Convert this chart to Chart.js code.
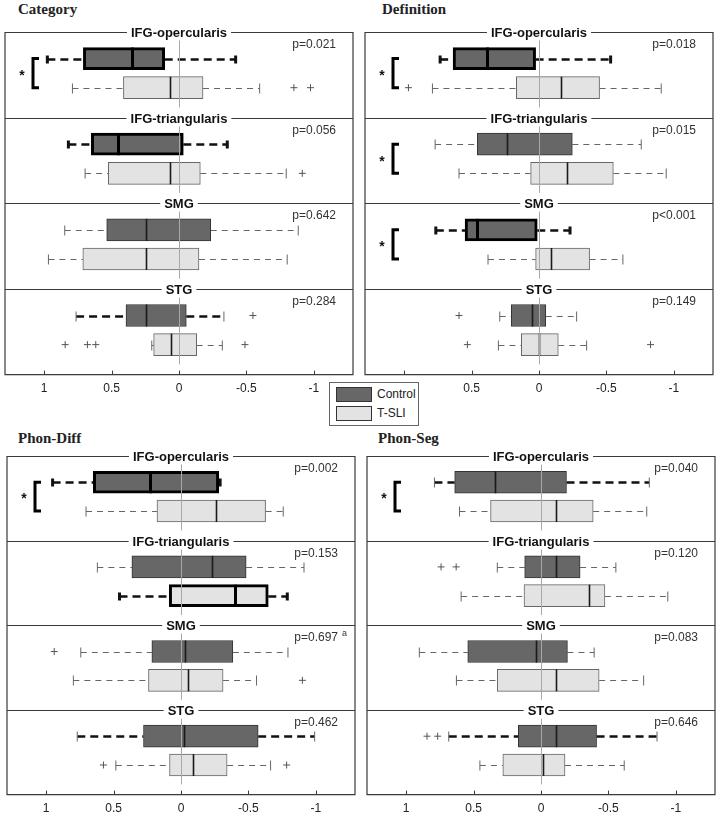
<!DOCTYPE html>
<html lang="en">
<head>
<meta charset="UTF-8">
<title>ROI laterality boxplots</title>
<script src="https://cdn.jsdelivr.net/npm/chart.js"></script>
<style>
  body { margin: 0; background: #fff; font-family: 'Liberation Sans', Arial, sans-serif; }
  #page { position: relative; width: 721px; height: 817px; overflow: hidden; }
  canvas { position: absolute; }
  .ptitle {
    position: absolute;
    font-family: 'Liberation Serif', 'DejaVu Serif', serif;
    font-weight: bold;
    font-size: 15px;
    color: #222;
  }
  #legend {
    position: absolute; left: 329px; top: 382px; width: 88px; height: 42px;
    border: 1px solid #666; background: #fff; z-index: 2;
  }
  #legend .sw { position: absolute; left: 6px; width: 34px; height: 13px; border: 1px solid #333; }
  #legend .lab { position: absolute; left: 47px; font-size: 12px; color: #222; }
</style>
</head>
<body>
<div id="page">
  <div class="ptitle" style="left:18px; top:1px;">Category</div>
  <div class="ptitle" style="left:382px; top:1px;">Definition</div>
  <div class="ptitle" style="left:18px; top:430px;">Phon-Diff</div>
  <div class="ptitle" style="left:378px; top:430px;">Phon-Seg</div>

  <canvas id="cCategory" width="360" height="403" style="left:0; top:0;"></canvas>
  <canvas id="cDefinition" width="360" height="403" style="left:360px; top:0;"></canvas>
  <canvas id="cDiff" width="360" height="393" style="left:0; top:430px;"></canvas>
  <canvas id="cSeg" width="360" height="393" style="left:360px; top:430px;"></canvas>

  <div id="legend">
    <span class="sw" style="top:4px; background:#676767;"></span><span class="lab" style="top:4px;">Control</span>
    <span class="sw" style="top:23px; background:#e3e3e3;"></span><span class="lab" style="top:23px;">T-SLI</span>
  </div>
</div>

<script>
// regions, top to bottom in every panel
const regions = ['IFG-opercularis', 'IFG-triangularis', 'SMG', 'STG'];
const tickValues = [1, 0.5, 0, -0.5, -1];
const tickLabels = ['1', '0.5', '0', '-0.5', '-1'];

// five-number summaries [min, q1, median, q3, max] per region
const categoryControl = [[-0.42, 0.106, 0.346, 0.709, 0.976], [-0.358, -0.032, 0.45, 0.65, 0.82], [-0.884, -0.235, 0.247, 0.536, 0.847], [-0.333, -0.054, 0.247, 0.393, 0.763]];
const categoryTsli = [[-0.598, -0.178, 0.069, 0.412, 0.79], [-0.795, -0.158, 0.069, 0.524, 0.696], [-0.802, -0.148, 0.247, 0.713, 0.968], [-0.321, -0.131, 0.057, 0.188, 0.202]];
const categoryControlOut = [[], [], [], [-0.548]];
const categoryTsliOut = [[-0.852, -0.975], [-0.914], [], [0.844, 0.679, 0.617, -0.489]];
const categoryP = ['p=0.021', 'p=0.056', 'p=0.642', 'p=0.284'];
const categorySig = [true, false, false, false];

const definitionControl = [[-0.531, 0.025, 0.383, 0.637, 0.733], [-0.758, -0.247, 0.235, 0.457, 0.77], [-0.23, 0.013, 0.457, 0.548, 0.765], [-0.279, -0.05, 0.054, 0.205, 0.291]];
const definitionTsli = [[-0.906, -0.449, -0.165, 0.168, 0.79], [-0.943, -0.551, -0.205, 0.062, 0.593], [-0.622, -0.375, -0.086, 0.025, 0.378], [-0.353, -0.143, 0.0, 0.131, 0.301]];
const definitionControlOut = [[], [], [], [0.593]];
const definitionTsliOut = [[0.968], [], [], [0.531, -0.827]];
const definitionP = ['p=0.018', 'p=0.015', 'p<0.001', 'p=0.149'];
const definitionSig = [true, true, true, false];

const diffControl = [[-0.29, -0.28, 0.228, 0.65, 0.952], [-0.912, -0.483, -0.23, 0.364, 0.62], [-0.793, -0.384, -0.027, 0.216, 0.743], [-0.991, -0.572, -0.019, 0.278, 0.769]];
const diffTsli = [[-0.758, -0.627, -0.26, 0.178, 0.704], [-0.788, -0.647, -0.399, 0.087, 0.456], [-0.56, -0.312, -0.052, 0.241, 0.798], [-0.664, -0.342, -0.089, 0.085, 0.483]];
const diffControlOut = [[], [], [0.94], []];
const diffTsliOut = [[], [], [-0.9], [0.575, -0.783]];
const diffP = ['p=0.002', 'p=0.153', 'p=0.697', 'p=0.462'];
const diffNotes = ['', '', 'a', ''];
const diffSig = [true, false, false, false];

const segControl = [[-0.803, -0.189, 0.342, 0.64, 0.79], [-0.555, -0.29, -0.114, 0.121, 0.324], [-0.394, -0.196, 0.034, 0.543, 0.902], [-0.86, -0.412, -0.109, 0.168, 0.684]];
const segTsli = [[-0.784, -0.387, -0.109, 0.374, 0.604], [-0.94, -0.474, -0.357, 0.126, 0.592], [-0.761, -0.431, -0.109, 0.324, 0.627], [-0.617, -0.178, -0.015, 0.283, 0.453]];
const segControlOut = [[], [0.741, 0.629], [], [0.845, 0.766]];
const segTsliOut = [[], [], [], []];
const segP = ['p=0.040', 'p=0.120', 'p=0.083', 'p=0.646'];
const segSig = [true, false, false, false];

// which boxes / whiskers are drawn heavy, [control, tsli]
const categoryHeavy = [[true, true, false, false], [false, false, false, false]];
const categoryHeavyWhisker = [[true, true, false, true], [false, false, false, false]];
const definitionHeavy = [[true, false, true, false], [false, false, false, false]];
const definitionHeavyWhisker = [[true, false, true, false], [false, false, false, false]];
const diffHeavy = [[true, false, false, false], [false, true, false, false]];
const diffHeavyWhisker = [[true, false, false, true], [false, true, false, false]];
const segHeavy = [[false, false, false, false], [false, false, false, false]];
const segHeavyWhisker = [[true, false, false, true], [false, false, false, false]];

const FONT = "'Liberation Sans', Arial, sans-serif";
const rowOffset = [0.31, 0.65];   // control / T-SLI row within a region band
const fills = ['#676767', '#e3e3e3'];
const edges = ['#333333', '#666666'];

function line(ctx, x1, y1, x2, y2) {
    ctx.beginPath();
    ctx.moveTo(x1, y1);
    ctx.lineTo(x2, y2);
    ctx.stroke();
}

const boxParts = {
    id: 'boxParts',
    beforeDatasetsDraw(chart, args, o) {
        const {ctx, scales: {x, y}} = chart;
        ctx.save();
        [o.control, o.tsli].forEach((stats, g) => {
            stats.forEach((s, i) => {
                const yy = Math.round(y.getPixelForValue(i + rowOffset[g])) + 0.5;
                const px = s.map(v => x.getPixelForValue(v));
                const heavy = o.heavy[g][i];
                const hw = heavy || o.heavyWhisker[g][i];
                ctx.strokeStyle = hw ? '#111' : '#666';
                ctx.lineWidth = hw ? 2.6 : 1;
                ctx.setLineDash(hw ? [8, 5] : [6, 5]);
                line(ctx, px[4], yy, px[3], yy);
                line(ctx, px[1], yy, px[0], yy);
                ctx.setLineDash([]);
                ctx.strokeStyle = heavy ? '#111' : '#666';
                ctx.lineWidth = heavy ? 3 : 1;
                const ch = heavy ? 4 : 5;
                line(ctx, px[4], yy - ch, px[4], yy + ch);
                line(ctx, px[0], yy - ch, px[0], yy + ch);
            });
        });
        ctx.restore();
    },
    afterDatasetsDraw(chart, args, o) {
        const {ctx, chartArea: a, scales: {x, y}} = chart;
        ctx.save();
        // medians
        [o.control, o.tsli].forEach((stats, g) => {
            stats.forEach((s, i) => {
                const yy = y.getPixelForValue(i + rowOffset[g]);
                const xm = Math.round(x.getPixelForValue(s[2])) + 0.5;
                const heavy = o.heavy[g][i];
                ctx.strokeStyle = heavy ? '#000' : '#1a1a1a';
                ctx.lineWidth = heavy ? 3 : 1.6;
                line(ctx, xm, yy - 11, xm, yy + 11);
            });
        });
        // zero reference line inside every band
        const x0 = Math.round(x.getPixelForValue(0)) + 0.5;
        ctx.strokeStyle = '#a8a8a8';
        ctx.lineWidth = 1;
        regions.forEach((r, i) => line(ctx, x0, y.getPixelForValue(i + 0.06), x0, y.getPixelForValue(i + 0.88)));

        // frame
        ctx.strokeStyle = '#3a3a3a';
        ctx.lineWidth = 1.2;
        ctx.beginPath();
        ctx.moveTo(a.left, a.top);
        ctx.lineTo(a.left, a.bottom);
        ctx.lineTo(a.right, a.bottom);
        ctx.lineTo(a.right, a.top);
        ctx.stroke();

        // inward ticks
        ctx.lineWidth = 1;
        tickValues.forEach(v => {
            const tx = Math.round(x.getPixelForValue(v)) + 0.5;
            line(ctx, tx, a.bottom, tx, a.bottom - 4);
        });

        const cx = (a.left + a.right) / 2;
        regions.forEach((r, i) => {
            const top = Math.round(y.getPixelForValue(i)) + 0.5;
            ctx.strokeStyle = '#3a3a3a';
            ctx.lineWidth = 1.2;
            line(ctx, a.left, top, a.right, top);

            ctx.font = 'bold 13px ' + FONT;
            const w = ctx.measureText(r).width;
            ctx.fillStyle = '#fff';
            ctx.fillRect(cx - w / 2 - 4, top - 8, w + 8, 16);
            ctx.fillStyle = '#111';
            ctx.textAlign = 'center';
            ctx.textBaseline = 'middle';
            ctx.fillText(r, cx, top + 1);

            ctx.font = '12px ' + FONT;
            ctx.fillStyle = '#333';
            ctx.textAlign = 'right';
            ctx.fillText(o.p[i], a.right - 17, top + 12);
            if (o.notes && o.notes[i]) {
                ctx.font = '9px ' + FONT;
                ctx.textAlign = 'left';
                ctx.fillText(o.notes[i], a.right - 13, top + 8);
            }

            if (o.sig[i]) {
                const y1 = y.getPixelForValue(i + rowOffset[0]);
                const y2 = y.getPixelForValue(i + rowOffset[1]);
                const bx = a.left + 28;
                ctx.strokeStyle = '#000';
                ctx.lineWidth = 3;
                ctx.beginPath();
                ctx.moveTo(bx + 6, y1);
                ctx.lineTo(bx, y1);
                ctx.lineTo(bx, y2);
                ctx.lineTo(bx + 6, y2);
                ctx.stroke();
                ctx.font = 'bold 14px ' + FONT;
                ctx.fillStyle = '#111';
                ctx.textAlign = 'center';
                ctx.fillText('*', a.left + 17, (y1 + y2) / 2 + 3);
            }
        });
        ctx.restore();
    }
};

function boxData(stats, g) {
    return stats.map((s, i) => ({x: [s[1], s[3]], y: i + rowOffset[g]}));
}

function outlierData(ctrlOut, tsliOut) {
    const pts = [];
    [ctrlOut, tsliOut].forEach((list, g) => {
        list.forEach((vals, i) => vals.forEach(v => pts.push({x: v, y: i + rowOffset[g]})));
    });
    return pts;
}

function makePanel(id, p, pad) {
    const ctx = document.getElementById(id).getContext('2d');
    return new Chart(ctx, {
        type: 'bar',
        data: {
            datasets: [
                {
                    label: 'Control',
                    data: boxData(p.control, 0),
                    backgroundColor: fills[0],
                    borderColor: p.heavy[0].map(h => h ? '#000' : edges[0]),
                    borderWidth: p.heavy[0].map(h => h ? 3 : 1),
                    borderSkipped: false,
                    barThickness: 22
                },
                {
                    label: 'T-SLI',
                    data: boxData(p.tsli, 1),
                    backgroundColor: fills[1],
                    borderColor: p.heavy[1].map(h => h ? '#000' : edges[1]),
                    borderWidth: p.heavy[1].map(h => h ? 3 : 1),
                    borderSkipped: false,
                    barThickness: 22
                },
                {
                    type: 'scatter',
                    label: 'outliers',
                    data: outlierData(p.ctrlOut, p.tsliOut),
                    pointStyle: 'cross',
                    radius: 3.5,
                    borderColor: '#555',
                    borderWidth: 1
                }
            ]
        },
        options: {
            responsive: false,
            animation: false,
            indexAxis: 'y',
            grouped: false,
            layout: {padding: pad},
            plugins: {
                legend: {display: false},
                tooltip: {enabled: false},
                boxParts: p
            },
            scales: {
                x: {
                    type: 'linear',
                    reverse: true,
                    min: -1.29,
                    max: 1.29,
                    offset: false,
                    grid: {display: false, drawTicks: false},
                    border: {display: false},
                    afterBuildTicks: axis => { axis.ticks = tickValues.map(v => ({value: v})); },
                    ticks: {
                        padding: 7,
                        color: '#222',
                        font: {size: 12, family: FONT},
                        callback: v => tickLabels[tickValues.indexOf(v)]
                    }
                },
                y: {
                    type: 'linear',
                    reverse: true,
                    min: 0,
                    max: 4,
                    offset: false,
                    display: false
                }
            }
        },
        plugins: [boxParts]
    });
}

makePanel('cCategory', {
    control: categoryControl, tsli: categoryTsli, ctrlOut: categoryControlOut, tsliOut: categoryTsliOut,
    p: categoryP, sig: categorySig, heavy: categoryHeavy, heavyWhisker: categoryHeavyWhisker
}, {left: 5, right: 7, top: 32, bottom: 0});

makePanel('cDefinition', {
    control: definitionControl, tsli: definitionTsli, ctrlOut: definitionControlOut, tsliOut: definitionTsliOut,
    p: definitionP, sig: definitionSig, heavy: definitionHeavy, heavyWhisker: definitionHeavyWhisker
}, {left: 5, right: 7, top: 32, bottom: 0});

makePanel('cDiff', {
    control: diffControl, tsli: diffTsli, ctrlOut: diffControlOut, tsliOut: diffTsliOut,
    p: diffP, notes: diffNotes, sig: diffSig, heavy: diffHeavy, heavyWhisker: diffHeavyWhisker
}, {left: 7, right: 5, top: 26, bottom: 0});

makePanel('cSeg', {
    control: segControl, tsli: segTsli, ctrlOut: segControlOut, tsliOut: segTsliOut,
    p: segP, sig: segSig, heavy: segHeavy, heavyWhisker: segHeavyWhisker
}, {left: 7, right: 5, top: 26, bottom: 0});
</script>
</body>
</html>
